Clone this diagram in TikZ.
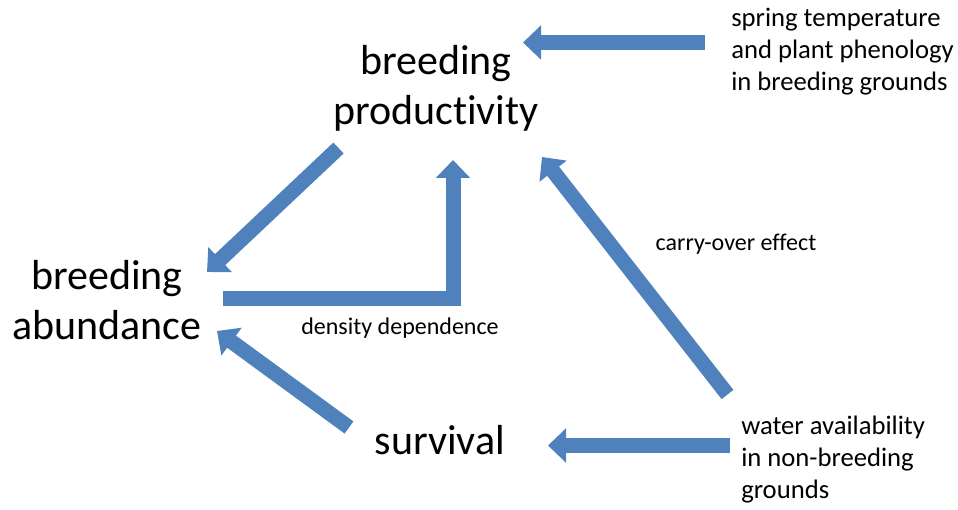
\documentclass[tikz,border=0pt]{standalone}
\usepackage{fontspec}
\setmainfont{Carlito}[Ligatures=NoCommon]
\usepackage{tikz}
\usetikzlibrary{arrows.meta,positioning}
\definecolor{flowblue}{HTML}{4F81BD}

\begin{document}
\begin{tikzpicture}[x=0.75pt,y=-0.75pt,
  big/.style={font=\fontsize{31.5}{37.5}\selectfont,align=center,inner sep=0pt},
  small/.style={font=\fontsize{18}{24}\selectfont,inner sep=0pt},
  driver/.style={font=\fontsize{20}{24}\selectfont,inner sep=0pt,align=left,anchor=west},
  flow/.style={draw=flowblue,line width=11.25pt,line join=miter,-{Triangle[width=25pt,length=13.5pt]}}]
  \useasboundingbox (0,0) rectangle (958,510);
  % the four main states
  \node[big] (prod) at (436,88) {breeding\\productivity};
  \node[big] (abund) at (107,300) {breeding\\abundance};
  \node[big] (surv) at (440,440) {survival};

  % drivers and effect labels
  \node[driver] (spring) at (731,52) {spring temperature\\and plant phenology\\in breeding grounds};
  \node[driver] (water) at (741,460) {water availability\\in non-breeding\\grounds};
  \node[small] (carry) at (736,244) {carry-over effect};
  \node[small] (dens) at (400,328) {density dependence};

  % arrow ends
  \coordinate (spring-out) at (705,42.5);
  \coordinate (prod-in1) at (523,42.5);
  \coordinate (prod-out) at (338.5,148);
  \coordinate (abund-in1) at (207,272);
  \coordinate (abund-out) at (223,298.5);
  \coordinate (prod-in2) at (453,160);
  \coordinate (surv-out) at (349,427.5);
  \coordinate (abund-in2) at (217,331);
  \coordinate (water-out1) at (727.5,394.5);
  \coordinate (prod-in3) at (542,157);
  \coordinate (water-out2) at (730,445.5);
  \coordinate (surv-in) at (548,445.5);

  \draw[flow] (spring-out) -- (prod-in1);
  \draw[flow] (prod-out) -- (abund-in1);
  \draw[flow] (abund-out) -| (prod-in2);
  \draw[flow] (surv-out) -- (abund-in2);
  \draw[flow] (water-out1) -- (prod-in3);
  \draw[flow] (water-out2) -- (surv-in);
\end{tikzpicture}
\end{document}
